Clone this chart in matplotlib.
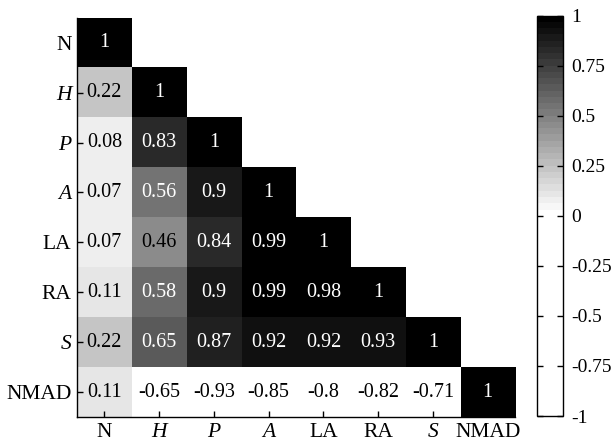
"""Lower-triangle correlation heatmap with a white-to-black colour scale."""
import numpy as np
import matplotlib
matplotlib.use("Agg")
from matplotlib import pyplot as plt
from matplotlib.colors import ListedColormap

labels = ["N", "H", "P", "A", "LA", "RA", "S", "NMAD"]
italic_labels = {"H", "P", "A", "S"}

# lower triangle rows (row i has i+1 values)
row_n = [1]
row_h = [0.22, 1]
row_p = [0.08, 0.83, 1]
row_a = [0.07, 0.56, 0.9, 1]
row_la = [0.07, 0.46, 0.84, 0.99, 1]
row_ra = [0.11, 0.58, 0.9, 0.99, 0.98, 1]
row_s = [0.22, 0.65, 0.87, 0.92, 0.92, 0.93, 1]
row_nmad = [0.11, -0.65, -0.93, -0.85, -0.8, -0.82, -0.71, 1]
rows = [row_n, row_h, row_p, row_a, row_la, row_ra, row_s, row_nmad]

cbar_ticks = [-1, -0.75, -0.5, -0.25, 0, 0.25, 0.5, 0.75, 1]
cbar_ticklabels = ["-1", "-0.75", "-0.5", "-0.25", "0", "0.25", "0.5", "0.75", "1"]

plt.rcParams["font.family"] = ["Liberation Serif", "DejaVu Serif"]

n = len(labels)
mat = np.full((n, n), np.nan)
for i, r in enumerate(rows):
    mat[i, :len(r)] = r

# 64-level map: white for negatives, white->black for 0..1
levels = 64
half = levels // 2
greys = np.concatenate([np.ones(half), np.linspace(1, 0, half)])
cmap = ListedColormap(np.column_stack([greys, greys, greys]))
cmap.set_bad("white")

fig = plt.figure(figsize=(6.11, 4.44), dpi=100)
ax = fig.add_axes([0.126, 0.0608, 0.717, 0.899])
im = ax.imshow(mat, cmap=cmap, vmin=-1, vmax=1, aspect="auto", interpolation="nearest")

for i, r in enumerate(rows):
    for j, v in enumerate(r):
        color = "white" if v > 0.5 else "black"
        ax.text(j, i, f"{v:g}", ha="center", va="center", fontsize=14.5, color=color)

ax.set_xticks(range(n))
ax.set_yticks(range(n))
ax.set_xticklabels(labels, fontsize=15.5)
ax.set_yticklabels(labels, fontsize=15.5)
for tl in ax.get_xticklabels() + ax.get_yticklabels():
    if tl.get_text() in italic_labels:
        tl.set_fontstyle("italic")
ax.tick_params(direction="in", length=4, width=1, pad=4)
ax.spines["top"].set_visible(False)
ax.spines["right"].set_visible(False)
for s in ("left", "bottom"):
    ax.spines[s].set_linewidth(1)

cax = fig.add_axes([0.879, 0.063, 0.0426, 0.902])
cbar = fig.colorbar(im, cax=cax, ticks=cbar_ticks)
cbar.ax.set_yticklabels(cbar_ticklabels, fontsize=14)
cbar.ax.tick_params(direction="in", length=4, width=1, left=True, right=True, pad=6)
cbar.outline.set_linewidth(1)

fig.savefig("out.png", dpi=100)
